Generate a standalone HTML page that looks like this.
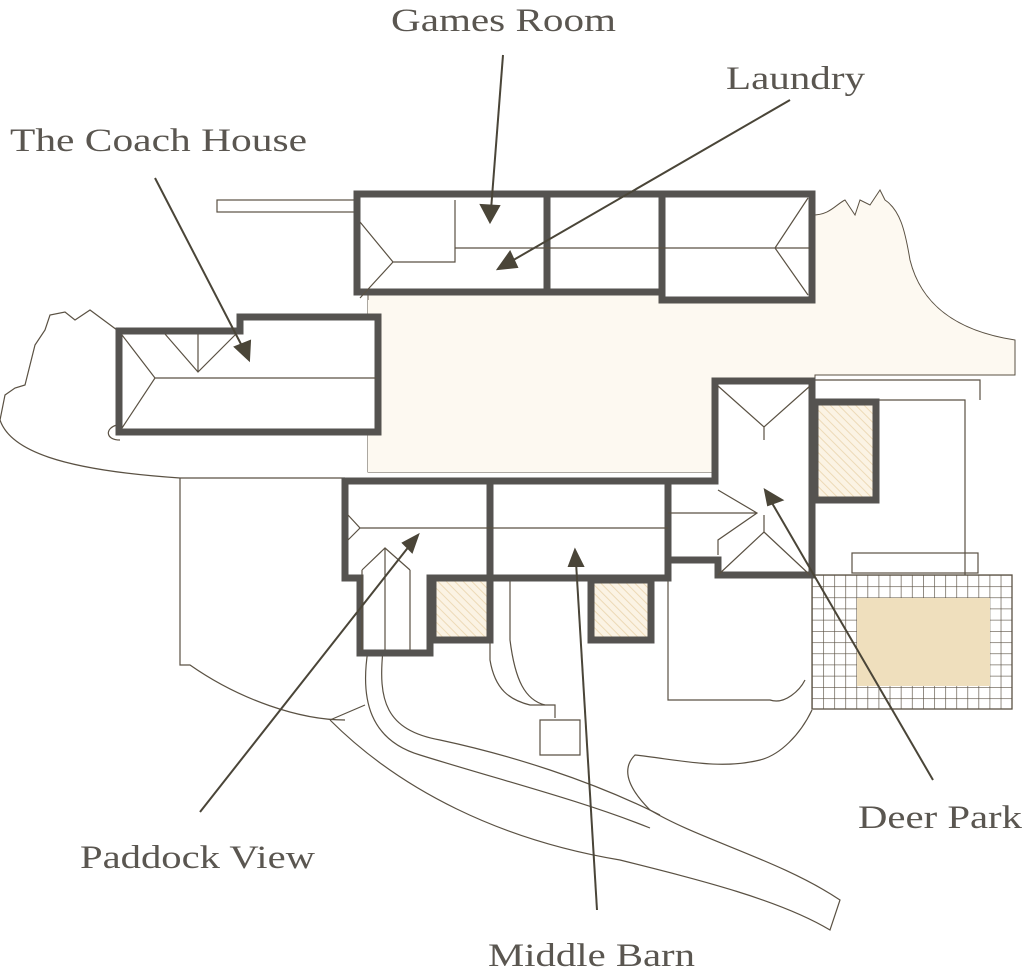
<!DOCTYPE html>
<html><head><meta charset="utf-8"><style>html,body{margin:0;padding:0;background:#fff}svg{display:block}</style></head>
<body>
<svg width="1024" height="977" viewBox="0 0 1024 977" xmlns="http://www.w3.org/2000/svg">
<defs>
<pattern id="hatch" width="6" height="6" patternUnits="userSpaceOnUse" patternTransform="rotate(-45)">
<rect width="6" height="6" fill="#fbf3e4"/><line x1="0" y1="0" x2="0" y2="6" stroke="#ecd9b6" stroke-width="2"/></pattern>
<pattern id="grid" width="11.1" height="11.2" patternUnits="userSpaceOnUse" x="812" y="575">
<rect width="11.1" height="11.2" fill="#fff"/><path d="M0 0H11.1M0 0V11.2" stroke="#5a5143" stroke-width="1.3" fill="none"/></pattern>
</defs>
<path d="M368 295 H662 V300 H812 V215 C830 215 835 205 845 200 L855 215 L860 200 L870 205 L880 190 L885 200 C900 210 905 230 910 260 C920 300 950 330 1015 340 V375 H815 V380 H715 V472 H368 Z" fill="#fdf9f1" stroke="#5a5143" stroke-width="1"/>
<rect x="368" y="300" width="440" height="172" fill="#fdf9f1"/>
<g fill="none" stroke="#5a5143" stroke-width="1.2">
<rect x="217" y="200" width="140" height="12"/>
<path d="M117 330 L90 310 L75 320 L65 312 L50 315 L45 330 L35 345 L25 385 L15 388 L5 395 L0 420 C10 450 60 470 180 478 L345 478"/>
<path d="M117 425 C105 428 105 440 120 440"/>
<path d="M180 478 V665 H190 C240 700 300 720 345 720"/>
<path d="M815 380 H980 V400 M877 400 H965 V575"/>
<rect x="852" y="553" width="126" height="20"/>
<path d="M368 650 C360 700 370 740 420 755 C500 780 580 800 650 828"/>
<path d="M383 650 C378 700 385 730 440 740 C510 755 590 780 660 815"/>
<path d="M330 720 L365 705 M330 720 C400 790 500 840 620 860 C700 880 780 900 830 930 L840 900 C780 860 700 840 650 810 C630 790 620 770 635 755 C680 760 720 770 760 760 C780 755 800 735 812 710"/>
<path d="M540 720 H580 V755 H540 Z"/>
<path d="M490 640 V660 C495 690 510 700 530 705 H555 V718"/>
<path d="M510 580 V640 C515 680 525 700 545 705"/>
<path d="M668 578 V700 H770 C785 705 800 690 805 680"/>
</g>
<rect x="812" y="575" width="200" height="134" fill="url(#grid)" stroke="#5a5143" stroke-width="1.3"/>
<rect x="857" y="598" width="133" height="88" fill="#efdfbd"/>
<g stroke="#555350" stroke-width="7" fill="url(#hatch)">
<rect x="433" y="578" width="57" height="62"/>
<rect x="591" y="580" width="60" height="60"/>
<rect x="815" y="402" width="61" height="98"/>
</g>
<g fill="#fff" stroke="#555350" stroke-width="7" stroke-linejoin="miter">
<path d="M357 194 H812 V300 H662 V292 H357 Z"/>
<path d="M119 331 H240 V317 H378 V432 H119 Z"/>
<path d="M345 481 H490 V578 H430 V653 H360 V578 H345 Z"/>
<rect x="490" y="481" width="178" height="97"/>
<path d="M668 481 H715 V381 H812 V575 H718 V560 H668 Z"/>
</g>
<g stroke="#555350" stroke-width="7" fill="none">
<path d="M547 194 V292 M662 194 V300"/>
</g>
<g fill="none" stroke="#5a5143" stroke-width="1.2">
<path d="M360 222 L393 262 L360 298 M393 262 H455 V200 M455 248 H810 M808 198 L775 248 L808 295"/>
<path d="M122 335 L155 378 L122 428 M155 378 H376 M165 334 L198 372 L236 334 M198 334 V372"/>
<path d="M348 515 L360 528 L348 540 M360 528 H668 M362 570 L385 548 L410 570 M385 548 V650 M362 570 V650 M410 570 V650"/>
<path d="M668 513 H757 M718 490 L757 513 L718 540 L718 555 M718 575 L764 532 L810 575 M764 532 V515 M718 386 L764 427 L810 386 M764 427 V440"/>
</g>
<g stroke="#4a4538" stroke-width="2" fill="#4a4538">
<line x1="503" y1="55" x2="491" y2="210"/><path d="M490 222 L481 205 L499 206 Z"/>
<line x1="790" y1="100" x2="510" y2="262"/><path d="M498 269 L510 252 L517 267 Z"/>
<line x1="155" y1="178" x2="243" y2="348"/><path d="M249 360 L235 347 L250 341 Z"/>
<line x1="200" y1="812" x2="410" y2="545"/><path d="M418 535 L412 552 L403 543 Z"/>
<line x1="597" y1="910" x2="576" y2="562"/><path d="M575 550 L569 566 L583 566 Z"/>
<line x1="933" y1="780" x2="772" y2="503"/><path d="M765 490 L782 500 L768 505 Z"/>
</g>
<g font-family="'Liberation Serif', serif" font-size="33" fill="#5a5650">
<text x="391" y="31" textLength="225" lengthAdjust="spacingAndGlyphs">Games Room</text>
<text x="726" y="89" textLength="139" lengthAdjust="spacingAndGlyphs">Laundry</text>
<text x="10" y="151" textLength="297" lengthAdjust="spacingAndGlyphs">The Coach House</text>
<text x="80" y="868" textLength="235" lengthAdjust="spacingAndGlyphs">Paddock View</text>
<text x="858" y="828" textLength="164" lengthAdjust="spacingAndGlyphs">Deer Park</text>
<text x="488" y="966" textLength="207" lengthAdjust="spacingAndGlyphs">Middle Barn</text>
</g>
</svg>
</body></html>
